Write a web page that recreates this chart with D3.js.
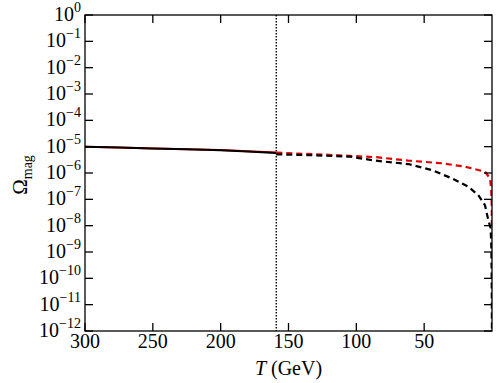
<!DOCTYPE html>
<html>
<head>
<meta charset="utf-8">
<script src="https://cdn.jsdelivr.net/npm/d3@7"></script>
<style>
  html, body { margin: 0; padding: 0; background: #fff; }
  svg { display: block; }
  text { font-family: "Liberation Serif", "DejaVu Serif", serif; fill: #000; }
</style>
</head>
<body>
<svg id="chart" width="499" height="383"></svg>
<script>
// ---- data (T in GeV, log10 of Omega_mag) ----
const solidT      = [300, 275, 250, 225, 200, 180, 159];
const solidBlack  = [-5.00, -5.03, -5.07, -5.10, -5.14, -5.18, -5.24];
const solidRed    = [-5.00, -5.03, -5.065, -5.095, -5.13, -5.17, -5.22];

const dashBlackT  = [159, 130, 104.7, 86.2, 61.7, 44.4, 29.7, 17.5, 10.1, 5.2, 2.7, 1.0, 0.5, 0.25, 0.12, 0.05];
const dashBlack   = [-5.29, -5.33, -5.38, -5.53, -5.66, -5.89, -6.20, -6.52, -6.84, -7.22, -7.79, -8.10, -8.8, -9.8, -11.0, -12.0];

const dashRedT    = [159, 120, 85, 61.7, 37.1, 19.9, 5.2, 1.5, 0.6, 0.2, 0.05];
const dashRed     = [-5.23, -5.31, -5.40, -5.53, -5.63, -5.76, -5.95, -6.20, -6.6, -7.2, -8.0];

const crossoverT  = 159;
const xTicks      = [300, 250, 200, 150, 100, 50];
const yTickExps   = [0, -1, -2, -3, -4, -5, -6, -7, -8, -9, -10, -11, -12];

// ---- layout ----
const svg = d3.select("#chart");
const L = 85, R = 492, T = 15, B = 331;
const x = d3.scaleLinear().domain([300, 0]).range([L, R]);
const y = d3.scaleLog().domain([1e-12, 1]).range([B, T]);

svg.append("defs").append("clipPath").attr("id", "clip")
  .append("rect").attr("x", L).attr("y", T).attr("width", R - L).attr("height", B - T);

const plot = svg.append("g").attr("clip-path", "url(#clip)");

// dotted vertical line
plot.append("line")
  .attr("x1", x(crossoverT)).attr("x2", x(crossoverT))
  .attr("y1", T).attr("y2", B)
  .attr("stroke", "#111").attr("stroke-width", 1.5)
  .attr("stroke-dasharray", "1.5,1.5");

const line = d3.line().x(d => x(d[0])).y(d => y(Math.pow(10, d[1])));
const zip = (a, b) => a.map((v, i) => [v, b[i]]);

plot.append("path").datum(zip(solidT, solidRed))
  .attr("d", line).attr("fill", "none").attr("stroke", "#e00000").attr("stroke-width", 2);
plot.append("path").datum(zip(solidT, solidBlack))
  .attr("d", line).attr("fill", "none").attr("stroke", "#000").attr("stroke-width", 2);
plot.append("path").datum(zip(dashRedT, dashRed))
  .attr("d", line).attr("fill", "none").attr("stroke", "#e00000").attr("stroke-width", 2.2)
  .attr("stroke-dasharray", "6,4");
plot.append("path").datum(zip(dashBlackT, dashBlack))
  .attr("d", line).attr("fill", "none").attr("stroke", "#000").attr("stroke-width", 2.2)
  .attr("stroke-dasharray", "6,4");

// ---- axes (ticks inward on all four sides) ----
const tickLen = 8;
const axG = svg.append("g");
axG.append("rect").attr("x", L).attr("y", T).attr("width", R - L).attr("height", B - T)
  .attr("fill", "none").attr("stroke", "#000").attr("stroke-width", 1.3);

xTicks.forEach(t => {
  const xx = x(t);
  axG.append("line").attr("x1", xx).attr("x2", xx).attr("y1", B).attr("y2", B - tickLen)
    .attr("stroke", "#000").attr("stroke-width", 1.3);
  axG.append("line").attr("x1", xx).attr("x2", xx).attr("y1", T).attr("y2", T + tickLen)
    .attr("stroke", "#000").attr("stroke-width", 1.3);
  axG.append("text").attr("x", xx).attr("y", B + 17).attr("text-anchor", "middle")
    .attr("font-size", 20).text(t);
});

yTickExps.forEach(e => {
  const yy = y(Math.pow(10, e));
  axG.append("line").attr("x1", L).attr("x2", L + tickLen).attr("y1", yy).attr("y2", yy)
    .attr("stroke", "#000").attr("stroke-width", 1.3);
  axG.append("line").attr("x1", R).attr("x2", R - tickLen).attr("y1", yy).attr("y2", yy)
    .attr("stroke", "#000").attr("stroke-width", 1.3);
  const txt = axG.append("text").attr("x", L - 4).attr("y", yy + 6)
    .attr("text-anchor", "end").attr("font-size", 20);
  txt.append("tspan").text("10");
  txt.append("tspan").attr("dy", -9).attr("font-size", 14)
    .text(e === 0 ? "0" : "\u2212" + Math.abs(e));
});

// axis labels
const xl = svg.append("text").attr("x", (L + R) / 2).attr("y", 375)
  .attr("text-anchor", "middle").attr("font-size", 20);
xl.append("tspan").attr("font-style", "italic").text("T");
xl.append("tspan").text(" (GeV)");

const yl = svg.append("text")
  .attr("transform", `translate(27, ${(T + B) / 2 + 2}) rotate(-90)`)
  .attr("text-anchor", "middle").attr("font-size", 21);
yl.append("tspan").text("\u03A9");
yl.append("tspan").attr("dy", 5).attr("font-size", 14).text("mag");
</script>
</body>
</html>
